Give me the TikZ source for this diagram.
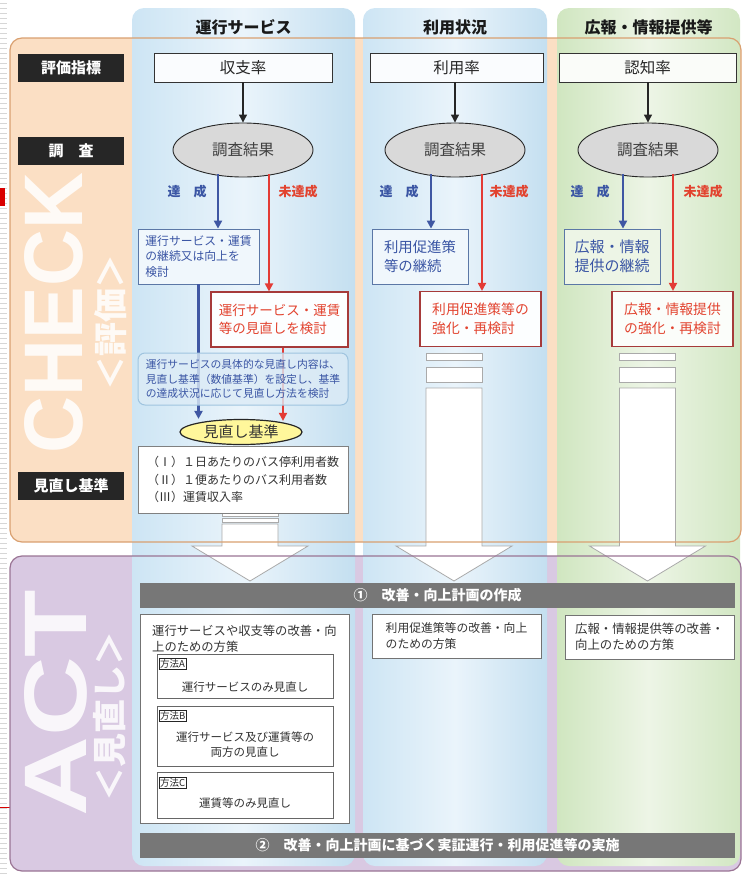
\documentclass[tikz,border=0pt]{standalone}
\usepackage{graphicx}
\usepackage{fontspec}
\setmainfont{Noto Sans CJK JP}
\newfontfamily\lsans{Liberation Sans}
\usetikzlibrary{shapes.geometric,arrows.meta,calc}
\newcommand\myfs[2]{\fontsize{#1}{#2}\selectfont}
\definecolor{peach}{HTML}{FBDFC4}
\definecolor{peachbd}{HTML}{D9A070}
\definecolor{lav}{HTML}{D9C9E2}
\definecolor{lavbd}{HTML}{9A7494}
\definecolor{bla}{HTML}{CDE5F4}
\definecolor{blb}{HTML}{EAF4FB}
\definecolor{blc}{HTML}{C4DFF0}
\definecolor{gra}{HTML}{D0E6C0}
\definecolor{grb}{HTML}{EDF5E6}
\definecolor{grc}{HTML}{D2E7C3}
\definecolor{labbg}{HTML}{262626}
\definecolor{ellg}{HTML}{D9D9D9}
\definecolor{bluetx}{HTML}{3A55A4}
\definecolor{bluebd}{HTML}{5B77A6}
\definecolor{blueln}{HTML}{3F57A3}
\definecolor{redtx}{HTML}{E2432F}
\definecolor{redbd}{HTML}{A63A3A}
\definecolor{redln}{HTML}{E33B35}
\definecolor{notebd}{HTML}{9FC4DF}
\definecolor{notefill}{HTML}{DCEBF6}
\definecolor{kjfill}{HTML}{FFF79B}
\definecolor{barg}{HTML}{777777}
\definecolor{txt}{HTML}{333333}
\definecolor{arrbd}{HTML}{AAAAAA}
\begin{document}
\begin{tikzpicture}[x=1pt,y=-1pt,
  hdr/.style={font=\myfs{16}{18}\bfseries, text=black!90, inner sep=0},
  lab/.style={fill=labbg, text=white, font=\myfs{15}{17}\bfseries, minimum width=106, minimum height=28, inner sep=0},
  topbox/.style={draw=black!80, line width=0.8, minimum height=29, inner sep=0, font=\myfs{15.5}{18}, text=black!85},
  res/.style={ellipse, draw=black!85, line width=0.9, fill=ellg, minimum width=140, minimum height=54, inner sep=0, font=\myfs{15.5}{18}, text=black!75},
  bbox/.style={draw=bluebd, fill=blb!70!white, line width=0.8, inner sep=0, text=bluetx, align=left},
  rbox/.style={draw=redbd, fill=white!88!blb, line width=1.1, inner sep=0, text=redtx, align=left, minimum height=55},
  blk/.style={-{Triangle[width=8pt,length=8pt]}, line width=1.2, draw=black!85},
  barr/.style={-{Triangle[width=8pt,length=8pt]}, line width=2.4, draw=blueln},
  rarr/.style={-{Triangle[width=8pt,length=8pt]}, line width=1.8, draw=redln},
  oklab/.style={text=bluetx, font=\myfs{13}{15}\bfseries, inner sep=0},
  nglab/.style={text=redtx, font=\myfs{13}{15}\bfseries, inner sep=0},
  blockarr/.style={fill=white, draw=arrbd, line width=0.8},
  gbar/.style={fill=barg, text=white, minimum width=595, minimum height=25, inner sep=0, font=\myfs{14}{16}\bfseries},
  actbox/.style={fill=white, draw=black!55, line width=0.7, inner sep=0, text=txt, align=left},
  mbox/.style={fill=white, draw=black!60, line width=0.7, minimum width=176, inner sep=0},
  mlab/.style={draw=black!85, line width=0.6, inner sep=1.2pt, font=\myfs{9.5}{11}, text=black!85, anchor=north west},
  mtxt/.style={font=\myfs{11.5}{15}, text=txt, align=center, inner sep=0},
  bigw/.style={rotate=90, text=white, inner sep=0}
]
\useasboundingbox (0,0) rectangle (743,876);
% left margin
\foreach \yy in {3,8,...,873} \draw[black!16, line width=0.6] (0,\yy) -- (7,\yy);
\fill[red!85!black] (0,188) rectangle (5,206);
\draw[red!85!black, line width=1] (0,807) -- (11,807);
% region fills
\fill[peach, rounded corners=12] (10,38) rectangle (741,542);
\fill[lav, rounded corners=12] (10,556) rectangle (741,871);
% columns
\path[rounded corners=12, left color=bla, right color=blc, middle color=blb] (132,8) rectangle (355,866);
\path[rounded corners=12, left color=bla, right color=blc, middle color=blb] (363,8) rectangle (547,866);
\path[rounded corners=12, left color=gra, right color=grc, middle color=grb] (557,8) rectangle (740,866);
% block arrows
\draw[blockarr] (222,513) rectangle (278,516);
\draw[blockarr] (222,518) rectangle (278,522);
\draw[blockarr] (222,524) -- (278,524) -- (278,546) -- (308,546) -- (250,581) -- (192,546) -- (222,546) -- cycle;
\foreach \cx in {454,647.5}{
  \draw[blockarr] (\cx-28,353) rectangle (\cx+28,360);
  \draw[blockarr] (\cx-28,367) rectangle (\cx+28,382);
  \draw[blockarr] (\cx-28,388) -- (\cx+28,388) -- (\cx+28,546) -- (\cx+58,546) -- (\cx,581) -- (\cx-58,546) -- (\cx-28,546) -- cycle;
}
% region borders
\draw[peachbd, line width=1.2, rounded corners=12] (10,38) rectangle (741,542);
\draw[lavbd, line width=1.2, rounded corners=12] (10,556) rectangle (741,871);
% big vertical words
\node[bigw, opacity=0.85] (chk) at (54,313) {\resizebox{280pt}{58pt}{\lsans\bfseries CHECK}};
\node[bigw, opacity=0.85, font=\myfs{34}{36}\bfseries] (hyoka) at (111,322) {＜評価＞};
\node[bigw, opacity=0.85] (act) at (56,703) {\resizebox{227pt}{62pt}{\lsans\bfseries ACT}};
\node[bigw, opacity=0.85, font=\myfs{34}{36}\bfseries] (minaoshi) at (110,716) {＜見直し＞};
% headers
\node[hdr] (h1) at (243.5,27) {運行サービス};
\node[hdr] (h2) at (455,27) {利用状況};
\node[hdr] (h3) at (648.5,27) {広報・情報提供等};
% left labels
\node[lab] (l1) at (71,67.5) {評価指標};
\node[lab] (l2) at (71,151) {調　査};
\node[lab] (l3) at (71,486) {見直し基準};
% top boxes
\node[topbox, minimum width=178, fill=white!75!blb] (t1) at (243,67.5) {収支率};
\node[topbox, minimum width=173, fill=white!75!blb] (t2) at (456.5,67.5) {利用率};
\node[topbox, minimum width=177, fill=white!75!grb] (t3) at (647.5,67.5) {認知率};
% survey ellipses
\node[res] (e1) at (243,150) {調査結果};
\node[res] (e2) at (455,150) {調査結果};
\node[res] (e3) at (648,150) {調査結果};
\draw[blk] (e1.north |- t1.south) -- (e1.north);
\draw[blk] (e2.north |- t2.south) -- (e2.north);
\draw[blk] (e3.north |- t3.south) -- (e3.north);
% outcome boxes
\node[bbox, minimum width=121, minimum height=55, font=\myfs{11.8}{15.5}] (b1) at (198.5,256.5) {運行サービス・運賃\\の継続又は向上を\\検討};
\node[bbox, minimum width=96, minimum height=55, font=\myfs{14.4}{19}] (b2) at (420,256.5) {利用促進策\\等の継続};
\node[bbox, minimum width=96, minimum height=55, font=\myfs{15}{19}, fill=grb] (b3) at (612,256.5) {広報・情報\\提供の継続};
\node[rbox, minimum width=137, font=\myfs{13.5}{18.5}] (r1) at (279.5,319.5) {運行サービス・運賃\\等の見直しを検討};
\node[rbox, minimum width=121, font=\myfs{13.8}{19}] (r2) at (480.5,319) {利用促進策等の\\強化・再検討};
\node[rbox, minimum width=121, font=\myfs{13.8}{19}, fill=white!80!grb] (r3) at (672.5,319) {広報・情報提供\\の強化・再検討};
% branch arrows
\coordinate (ok1) at ($(e1.center)+(-25,24)$);
\coordinate (ng1) at ($(e1.center)+(26,24)$);
\coordinate (ok2) at ($(e2.center)+(-24,24)$);
\coordinate (ng2) at ($(e2.center)+(27,24)$);
\coordinate (ok3) at ($(e3.center)+(-25,24)$);
\coordinate (ng3) at ($(e3.center)+(25,24)$);
\draw[barr] (ok1) -- (ok1 |- b1.north);
\draw[rarr] (ng1) -- (ng1 |- r1.north);
\draw[barr] (ok2) -- (ok2 |- b2.north);
\draw[rarr] (ng2) -- (ng2 |- r2.north);
\draw[barr] (ok3) -- (ok3 |- b3.north);
\draw[rarr] (ng3) -- (ng3 |- r3.north);
\node[oklab] (k1) at (187,192) {達　成};
\node[nglab] (n1) at (298,192) {未達成};
\node[oklab] (k2) at (399,192) {達　成};
\node[nglab] (n2) at (509,192) {未達成};
\node[oklab] (k3) at (590,192) {達　成};
\node[nglab] (n3) at (703,192) {未達成};
% review criteria
\node[ellipse, draw=black!85, line width=1.2, fill=kjfill, minimum width=122, minimum height=25, inner sep=0, font=\myfs{15}{17}, text=black!80] (kj) at (241,432) {見直し基準};
\coordinate (rb1) at ($(r1.south)+(3.5,0)$);
\draw[barr] (b1.south) -- (b1.south |- kj.north);
\draw[rarr] (rb1) -- ($(rb1 |- kj.north)+(0,2)$);
\node[draw=notebd, line width=1, fill=notefill, fill opacity=0.8, text opacity=1, rounded corners=7, minimum width=210, minimum height=52, inner sep=0, text=bluetx, align=left, font=\myfs{10.8}{14.5}] (note) at (243,379) {運行サービスの具体的な見直し内容は、\\見直し基準（数値基準）を設定し、基準\\の達成状況に応じて見直し方法を検討};
\node[fill=white, draw=black!50, line width=0.8, minimum width=210, minimum height=67, inner sep=0, align=left, text=txt, font=\myfs{12}{17.5}] (crit) at (243,479.5) {（Ⅰ）１日あたりのバス停利用者数\\（Ⅱ）１便あたりのバス利用者数\\（Ⅲ）運賃収入率};
% ACT
\node[gbar] (bar1) at (437.5,595.5) {①　改善・向上計画の作成};
\node[gbar] (bar2) at (437.5,845) {②　改善・向上計画に基づく実証運行・利用促進等の実施};
\node[actbox, minimum width=209, minimum height=209] (a1) at (244.5,718.5) {};
\node[anchor=west, inner sep=0, align=left, text=txt, font=\myfs{12.3}{16}] (a1t) at (152,639) {運行サービスや収支等の改善・向\\上のための方策};
\node[mbox, minimum height=44] (mA) at (245,676) {};
\node[mbox, minimum height=60] (mB) at (245,736) {};
\node[mbox, minimum height=46] (mC) at (245,795) {};
\node[mlab] (lA) at (158.5,657.5) {方法A};
\node[mlab] (lB) at (158.5,710) {方法B};
\node[mlab] (lC) at (158.5,776.5) {方法C};
\node[mtxt] (tA) at (245,687) {運行サービスのみ見直し};
\node[mtxt] (tB) at (245,745) {運行サービス及び運賃等の\\両方の見直し};
\node[mtxt] (tC) at (245,803) {運賃等のみ見直し};
\node[actbox, minimum width=169, minimum height=44, font=\myfs{11.8}{16.5}] (a2) at (456.5,636) {利用促進策等の改善・向上\\のための方策};
\node[actbox, minimum width=169, minimum height=44, font=\myfs{12.4}{16.5}] (a3) at (649.5,637) {広報・情報提供等の改善・\\向上のための方策};
\end{tikzpicture}
\end{document}
